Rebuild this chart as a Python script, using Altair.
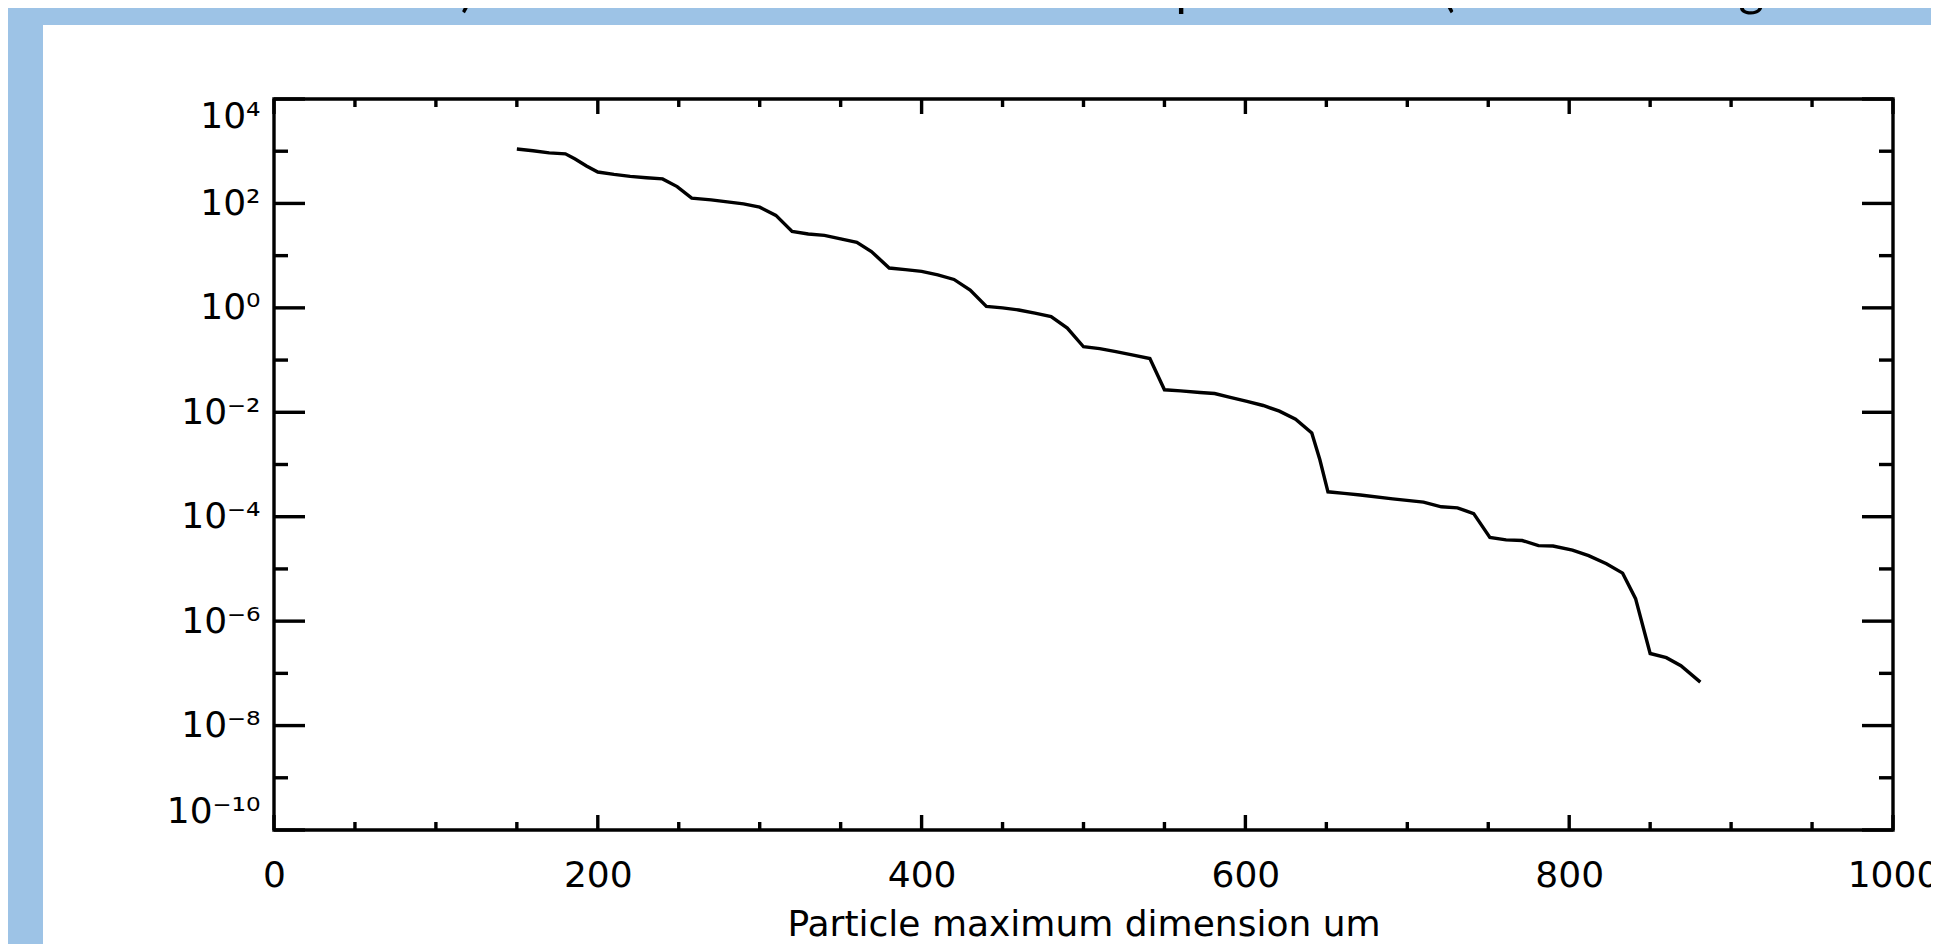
import altair as alt
import pandas as pd

# ---- data ----
size_um = [150, 160, 170, 180, 186, 193, 200, 210, 220, 230, 240, 249, 258, 270,
           280, 290, 300, 310, 320, 330, 340, 350, 360, 369, 380, 390, 400, 410,
           420, 430, 440, 450, 460, 470, 480, 490, 500, 510, 520, 530, 541, 550,
           560, 572, 581, 590, 601, 611, 621, 631, 641, 646, 651, 661, 671, 691,
           710, 721, 731, 741, 751, 761, 771, 781, 790, 802, 812, 823, 833, 841,
           850, 860, 869, 881]
value = [1.10e3, 1.02e3, 9.3e2, 8.9e2, 7.1e2, 5.2e2, 4.0e2, 3.6e2, 3.3e2, 3.1e2,
         2.95e2, 2.1e2, 1.26e2, 1.17e2, 1.07e2, 9.8e1, 8.5e1, 5.9e1, 2.9e1, 2.6e1,
         2.45e1, 2.1e1, 1.8e1, 1.2e1, 5.8, 5.4, 5.0, 4.3, 3.5, 2.2, 1.07, 1.0, 0.91,
         0.79, 0.68, 0.41, 0.18, 0.166, 0.145, 0.126, 0.107, 0.027, 0.0257, 0.024,
         0.0229, 0.0195, 0.0162, 0.0135, 0.0105, 0.0074, 0.0040, 0.00123, 3.0e-4,
         2.8e-4, 2.6e-4, 2.2e-4, 1.9e-4, 1.55e-4, 1.48e-4, 1.15e-4, 4.0e-5, 3.6e-5,
         3.5e-5, 2.8e-5, 2.75e-5, 2.3e-5, 1.8e-5, 1.26e-5, 8.3e-6, 2.7e-6, 2.4e-7,
         2.0e-7, 1.4e-7, 6.8e-8]

x_major = [0, 200, 400, 600, 800, 1000]
x_minor = [50, 100, 150, 250, 300, 350, 450, 500, 550, 650, 700, 750, 850, 900, 950]
y_major = [1e-10, 1e-8, 1e-6, 1e-4, 1e-2, 1, 1e2, 1e4]
y_major_labels = ["10⁻¹⁰", "10⁻⁸", "10⁻⁶", "10⁻⁴", "10⁻²", "10⁰", "10²", "10⁴"]
y_minor = [1e-9, 1e-7, 1e-5, 1e-3, 1e-1, 1e1, 1e3]

x_title = "Particle maximum dimension um"
slide_title = "um) as the maximum dimension of a particle size (estimate using"

# ---- layout ----
W, H = 1619, 731
PAD_L, PAD_T, PAD_R, PAD_B = 266, 91, 38, 114
BLUE = "#9DC3E6"
LW = 3.4

df = pd.DataFrame({"x": size_um, "y": value})
one = pd.DataFrame({"k": [0]})

xscale = alt.Scale(domain=[0, 1000], nice=False, zero=False)
yscale = alt.Scale(type="log", domain=[1e-10, 1e4], nice=False)

label_arr = "[" + ",".join("'%s'" % s for s in y_major_labels) + "]"
ylabel_expr = label_arr + "[round(log(datum.value)/LN10/2)+5]"

# blue slide strips (top and left), drawn over a white page
strip_top = alt.Chart(one).mark_rect(color=BLUE).encode(
    x=alt.value(-PAD_L), x2=alt.value(W + PAD_R),
    y=alt.value(-PAD_T), y2=alt.value(-74),
)
strip_left = alt.Chart(one).mark_rect(color=BLUE).encode(
    x=alt.value(-PAD_L), x2=alt.value(-231),
    y=alt.value(-PAD_T), y2=alt.value(H + PAD_B),
)

title_txt = alt.Chart(pd.DataFrame({"t": [slide_title]})).mark_text(
    align="left", baseline="alphabetic", font="Lato", fontSize=49, color="black"
).encode(x=alt.value(120), y=alt.value(-93), text="t:N")

frame = alt.Chart(one).mark_rect(fillOpacity=0, stroke="black", strokeWidth=LW).encode(
    x=alt.value(0), x2=alt.value(W), y=alt.value(0), y2=alt.value(H)
)

line = alt.Chart(df).mark_line(color="black", strokeWidth=3.4).encode(
    x=alt.X("x:Q", scale=xscale,
            axis=alt.Axis(values=x_major, format="d", ticks=False, domain=False,
                          grid=False, labelFont="DejaVu Sans", labelFontSize=36,
                          labelColor="black", labelPadding=28, labelFlush=False,
                          labelOverlap=False, labelBound=False,
                          title=x_title, titleFont="DejaVu Sans", titleFontSize=36,
                          titleFontWeight="normal", titleColor="black",
                          titlePadding=14)),
    y=alt.Y("y:Q", scale=yscale,
            axis=alt.Axis(values=y_major, labelExpr=ylabel_expr, ticks=False,
                          domain=False, grid=False, labelFont="DejaVu Sans",
                          labelFontSize=36, labelColor="black", labelPadding=14,
                          labelFlush=True, labelOverlap=False, labelBound=False,
                          title=None)),
)

def xticks(vals, y0, y1):
    return alt.Chart(pd.DataFrame({"x": vals})).mark_rule(
        color="black", strokeWidth=LW
    ).encode(x=alt.X("x:Q", scale=xscale), y=alt.value(y0), y2=alt.value(y1))

def yticks(vals, x0, x1):
    return alt.Chart(pd.DataFrame({"y": vals})).mark_rule(
        color="black", strokeWidth=LW
    ).encode(y=alt.Y("y:Q", scale=yscale), x=alt.value(x0), x2=alt.value(x1))

layers = [
    strip_top, strip_left, title_txt, frame,
    xticks(x_major, H, H - 15), xticks(x_minor, H, H - 8),
    xticks(x_major, 0, 15), xticks(x_minor, 0, 8),
    yticks(y_major, 0, 31), yticks(y_minor, 0, 14),
    yticks(y_major, W - 31, W), yticks(y_minor, W - 14, W),
    line,
]

chart = alt.layer(*layers).properties(
    width=W, height=H,
    autosize=alt.AutoSizeParams(type="none"),
    padding={"left": PAD_L, "top": PAD_T, "right": PAD_R, "bottom": PAD_B},
    background="white",
).configure_view(strokeWidth=0)

chart.save("out.html", embed_options={"renderer": "svg", "actions": False})
